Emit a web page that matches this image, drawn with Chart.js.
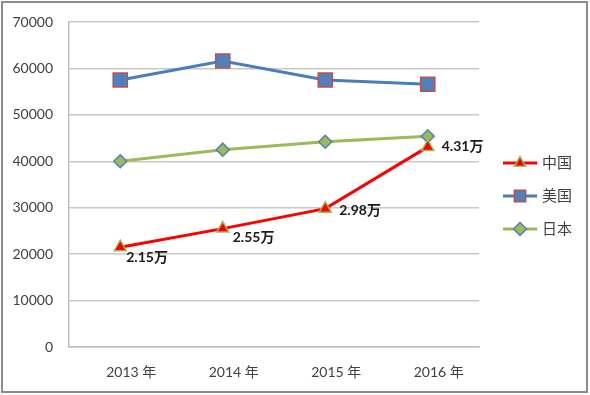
<!DOCTYPE html>
<html>
<head>
<meta charset="utf-8">
<script src="https://cdn.jsdelivr.net/npm/chart.js@4"></script>
<style>
  body { margin: 0; background: #fff; }
  #wrap { width: 590px; height: 395px; position: relative; }
</style>
</head>
<body>
<div id="wrap"><canvas id="chart" width="590" height="395"></canvas></div>
<script>
// chart data
const years = ["2013 年", "2014 年", "2015 年", "2016 年"];
const china = [21500, 25500, 29800, 43100];
const usa = [57500, 61600, 57500, 56600];
const japan = [40000, 42500, 44200, 45400];
const chinaLabels = ["2.15万", "2.55万", "2.98万", "4.31万"];
const seriesNames = ["中国", "美国", "日本"];

const FONT = "Lato, 'Noto Sans CJK SC', sans-serif";

// frame around the whole picture
const framePlugin = {
  id: "frame",
  beforeDraw(chart) {
    const ctx = chart.ctx;
    ctx.save();
    ctx.strokeStyle = "#8c8c8c";
    ctx.lineWidth = 2;
    ctx.strokeRect(2, 2, 585, 390);
    ctx.restore();
  },
};

// value labels next to the China points
const labelOffsets = [[6, 10], [10, 9], [14, 2], [14, 0]];
const labelPlugin = {
  id: "chinaLabels",
  afterDatasetsDraw(chart) {
    const ctx = chart.ctx;
    const meta = chart.getDatasetMeta(0);
    ctx.save();
    ctx.font = "bold 14px " + FONT;
    ctx.fillStyle = "#1a1a1a";
    ctx.textAlign = "left";
    ctx.textBaseline = "middle";
    meta.data.forEach((pt, i) => {
      ctx.fillText(chinaLabels[i], pt.x + labelOffsets[i][0], pt.y + labelOffsets[i][1]);
    });
    ctx.restore();
  },
};

// legend on the right: line + marker + name
const legendPlugin = {
  id: "sideLegend",
  afterDraw(chart) {
    const ctx = chart.ctx;
    const x0 = 503, x1 = 537;
    let y = 163;
    chart.data.datasets.forEach((ds) => {
      ctx.save();
      ctx.strokeStyle = ds.borderColor;
      ctx.lineWidth = 3;
      ctx.beginPath();
      ctx.moveTo(x0, y);
      ctx.lineTo(x1, y);
      ctx.stroke();
      ctx.fillStyle = ds.pointBackgroundColor;
      ctx.strokeStyle = ds.pointBorderColor;
      ctx.lineWidth = 1.5;
      Chart.helpers.drawPoint(ctx, {
        pointStyle: ds.pointStyle,
        radius: ds.pointStyle === "rect" ? 8 : 6.5,
        borderWidth: 1.5,
        rotation: 0,
      }, (x0 + x1) / 2, y);
      ctx.font = "15px " + FONT;
      ctx.fillStyle = "#404040";
      ctx.textBaseline = "middle";
      ctx.fillText(ds.label, 542, y);
      ctx.restore();
      y += 33;
    });
  },
};

new Chart(document.getElementById("chart"), {
  type: "line",
  data: {
    labels: years,
    datasets: [
      {
        label: seriesNames[0],
        data: china,
        borderColor: "#FF0000",
        borderWidth: 3,
        pointStyle: "triangle",
        pointRadius: 7,
        pointBackgroundColor: "#FF0000",
        pointBorderColor: "#9BBB59",
        pointBorderWidth: 1.5,
        order: 0,
      },
      {
        label: seriesNames[1],
        data: usa,
        borderColor: "#4A7EBB",
        borderWidth: 3,
        pointStyle: "rect",
        pointRadius: 10,
        pointBackgroundColor: "#4F81BD",
        pointBorderColor: "#C0504D",
        pointBorderWidth: 1.5,
        order: 1,
      },
      {
        label: seriesNames[2],
        data: japan,
        borderColor: "#9BBB59",
        borderWidth: 3,
        pointStyle: "rectRot",
        pointRadius: 6.5,
        pointBackgroundColor: "#9BBB59",
        pointBorderColor: "#4F81BD",
        pointBorderWidth: 1.5,
        order: 2,
      },
    ],
  },
  options: {
    responsive: false,
    animation: false,
    layout: { padding: { left: 0, top: 22, right: 111, bottom: 0 } },
    plugins: {
      legend: { display: false },
      tooltip: { enabled: false },
    },
    scales: {
      x: {
        offset: true,
        grid: { display: false, drawTicks: false },
        border: { color: "#BFBFBF", width: 1.5 },
        ticks: {
          color: "#404040",
          font: { family: FONT, size: 14 },
          padding: 17,
          labelOffset: 11,
        },
        afterFit(scale) { scale.height = 48; },
      },
      y: {
        min: 0,
        max: 70000,
        grid: { color: "#C8C8C8", lineWidth: 1.5, drawTicks: false },
        border: { color: "#BFBFBF", width: 1.5 },
        ticks: {
          stepSize: 10000,
          color: "#404040",
          font: { family: FONT, size: 14 },
          padding: 16,
          callback: (v) => String(v),
        },
        afterFit(scale) {
          scale.width = 69;
          scale.paddingTop = 8;
        },
      },
    },
  },
  plugins: [framePlugin, labelPlugin, legendPlugin],
});
</script>
</body>
</html>
